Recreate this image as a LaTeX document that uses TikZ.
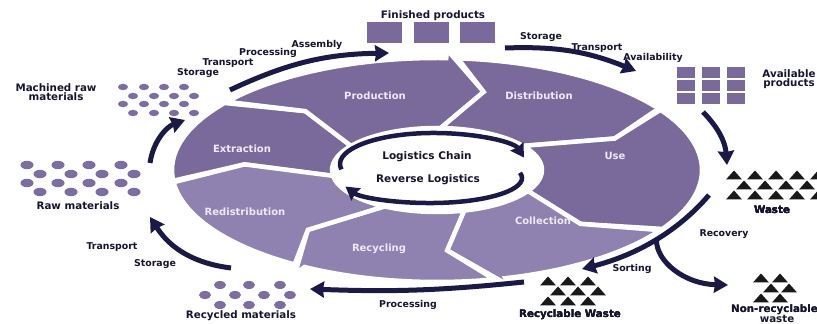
\documentclass[tikz,border=0pt]{standalone}
\usepackage{fontspec}
\setmainfont{DejaVu Sans}
\usetikzlibrary{arrows.meta,calc}
\definecolor{segA}{HTML}{7A6A9C}
\definecolor{segB}{HTML}{8F82B0}
\definecolor{dotc}{HTML}{7E6DA3}
\definecolor{navy}{HTML}{1A1948}
\definecolor{ink}{HTML}{16152E}
\definecolor{seglbl}{HTML}{EEEAF5}
\newcommand\rp[2]{({437+(105+160*(#2))*cos(#1)},{154+(42+70*(#2))*sin(#1)})}
\newcommand\ringpiece[3]{%
  \filldraw[ringseg, fill=#3] \rp{#1-2.5}{1}
    arc[start angle=#1-2.5, end angle=#2, x radius=265, y radius=112]
    -- \rp{#2}{1.12} -- \rp{#2-12}{0.55} -- \rp{#2}{0}
    arc[start angle=#2, end angle=#1, x radius=105, y radius=42]
    -- \rp{#1-12}{0.55} -- cycle;}
\begin{document}
\begin{tikzpicture}[x=1pt,y=1pt,
  lbl/.style={font=\bfseries\fontsize{10.3}{9.5}\selectfont, text=ink, inner sep=0pt, align=center},
  small/.style={font=\bfseries\fontsize{9.4}{9.5}\selectfont, text=ink, inner sep=0pt},
  seglabel/.style={font=\bfseries\fontsize{10}{10}\selectfont, text=seglbl, inner sep=0pt},
  ctrlabel/.style={font=\bfseries\fontsize{10.5}{10}\selectfont, text=ink, inner sep=0pt},
  flow/.style={draw=navy, line width=5pt, -{Stealth[length=14pt,width=16pt,inset=1pt]}},
  inflow/.style={draw=navy, line width=4.5pt, -{Stealth[length=13pt,width=15pt,inset=1pt]}},
  ringseg/.style={draw=white, line width=4.5pt, line join=miter, miter limit=20},
  dot/.style={fill=dotc},
  tri/.style={fill=black!90},
  box/.style={fill=segA}]
\useasboundingbox (0,0) rectangle (817,324);
\fill[white] (0,0) rectangle (817,324);

% ---- ring of seven arrows
\ringpiece{188}{145}{segA}
\ringpiece{145}{88}{segA}
\ringpiece{88}{35}{segA}
\ringpiece{35}{-30}{segA}
\ringpiece{-30}{-75}{segB}
\ringpiece{-75}{-120}{segB}
\ringpiece{-120}{-172}{segB}

\node[seglabel] (extraction) at (242,175) {Extraction};
\node[seglabel] (production) at (375,228) {Production};
\node[seglabel] (distribution) at (539,228) {Distribution};
\node[seglabel] (use) at (615,168) {Use};
\node[seglabel] (collection) at (543,103) {Collection};
\node[seglabel] (recycling) at (379,75) {Recycling};
\node[seglabel] (redistribution) at (245,112) {Redistribution};

% ---- centre
\node[ctrlabel] (chain) at (427,167) {Logistics Chain};
\node[ctrlabel] (reverse) at (428,144) {Reverse Logistics};
\coordinate (chainA) at ($(433,160)+(190:93 and 31)$);
\coordinate (revA) at ($(431,146)+(12:91 and 25)$);
\draw[inflow] (chainA) arc[start angle=190, end angle=12, x radius=93, y radius=31];
\draw[inflow] (revA) arc[start angle=12, end angle=-160, x radius=91, y radius=25];

% ---- finished products
\foreach \x in {367,414,460} \fill[box] (\x,281) rectangle ++(35,21);
\node[lbl] (finished) at (433,308) {Finished products};

% ---- available products
\foreach \x in {677,702,727} \foreach \y in {246,233,220} \fill[box] (\x,\y) rectangle ++(18,11);
\node[lbl] (available) at (789,245) {Available\\products};

% ---- machined raw materials dots
\foreach \y/\o in {237/0,228/10,220/0,211/10} \foreach \x in {123,144,164,184} \fill[dot] (\x+\o,\y) ellipse (5 and 3.2);
\node[lbl] (machined) at (56,232) {Machined raw\\materials};

% ---- raw materials dots
\foreach \y/\o in {159/0,150/13,141/0,132/13} \foreach \x in {27,58,89,121} \fill[dot] (\x+\o,\y) ellipse (6.5 and 4.2);
\node[lbl] (raw) at (78,118) {Raw materials};

% ---- recycled materials dots
\foreach \x in {220,249,280} {\fill[dot] (\x,39) ellipse (6 and 4); \fill[dot] (\x,19) ellipse (6 and 4);}
\foreach \x in {205,235,264,290} \fill[dot] (\x,29) ellipse (6 and 4);
\node[lbl] (recycled) at (241,8) {Recycled materials};

% ---- triangles
\newcommand\tria[2]{\fill[tri] (#1-8,#2-4.5) -- (#1+8,#2-4.5) -- (#1,#2+4.5) -- cycle;}
\foreach \x in {734,755,776,797,818} {\tria{\x}{149}\tria{\x}{129}}
\foreach \x in {744,765,786,807} \tria{\x}{139}
\node[lbl] (waste) at (772,114) {Waste};
\foreach \x in {548,568,588} {\tria{\x}{43}\tria{\x}{23}}
\foreach \x in {558,578,598} \tria{\x}{33}
\node[lbl] (recwaste) at (570,9) {Recyclable Waste};
\foreach \x in {761,780} {\tria{\x}{46}\tria{\x}{26}}
\foreach \x in {771,789} \tria{\x}{36}
\node[lbl, anchor=west] (nonrec) at (731,14) {Non-recyclable};
\node[lbl] (nonrecb) at (777,5) {waste};

% ---- outer labels
\node[small] (assembly) at (317,279) {Assembly};
\node[small] (processing1) at (268,271) {Processing};
\node[small] (transport1) at (228,261) {Transport};
\node[small] (storage1) at (198,251) {Storage};
\node[small] (storage2) at (541,287) {Storage};
\node[small] (transport2) at (597,276) {Transport};
\node[small] (availability) at (653,266) {Availability};
\node[small] (recovery) at (724,90) {Recovery};
\node[small] (sorting) at (632,55) {Sorting};
\node[small] (processing2) at (408,19) {Processing};
\node[small] (transport3) at (112,77) {Transport};
\node[small] (storage3) at (155,60) {Storage};

% ---- flow arrows
\coordinate (a1s) at (150,161); \coordinate (a1e) at (185,204);
\draw[flow] (a1s) .. controls (153,182) and (166,197) .. (a1e);
\coordinate (a2s) at (230,234); \coordinate (a2e) at (389,271);
\draw[flow] (a2s) to[bend left=12] (a2e);
\coordinate (a3s) at (505,276); \coordinate (a3e) at (636,253);
\draw[flow] (a3s) to[bend left=12] (a3e);
\coordinate (a4s) at (703,212); \coordinate (a4e) at (727,159);
\draw[flow] (a4s) to[bend left=20] (a4e);
\coordinate (a5s) at (709,129); \coordinate (a5e) at (582,55);
\draw[flow] (a5s) .. controls (680,95) and (640,70) .. coordinate[pos=0.5] (br) (a5e);
\coordinate (a6e) at (728,39);
\draw[flow] (br) .. controls (656,62) and (685,40) .. (a6e);
\coordinate (a7s) at (524,42); \coordinate (a7e) at (310,35);
\draw[flow] (a7s) to[bend left=4] (a7e);
\coordinate (a8s) at (231,56); \coordinate (a8e) at (150,107);
\draw[flow] (a8s) to[bend left=25] (a8e);
\end{tikzpicture}
\end{document}
